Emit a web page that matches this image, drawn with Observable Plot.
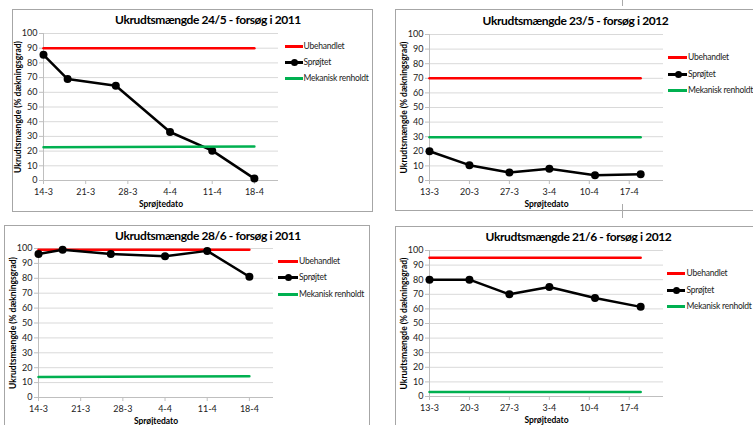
<!DOCTYPE html>
<html><head><meta charset="utf-8">
<script src="https://cdn.jsdelivr.net/npm/d3@7"></script>
<script src="https://cdn.jsdelivr.net/npm/@observablehq/plot@0.6"></script>
<style>
html,body{margin:0;padding:0;background:#fff;}
#root{position:relative;width:753px;height:425px;overflow:hidden;font-family:Lato,"Open Sans",sans-serif;}
.frame{position:absolute;border:1px solid #a6a6a6;box-sizing:border-box;}
.chart{position:absolute;}
.sw{position:absolute;}
.lt{position:absolute;font-size:8.5px;letter-spacing:-0.25px;color:#222;white-space:nowrap;height:12px;line-height:12px;}
.mark{position:absolute;width:1px;background:#aaa;}
</style></head><body><div id="root"></div>
<script>
// ---- data ----
const yTicks = [0, 10, 20, 30, 40, 50, 60, 70, 80, 90, 100];
const xTicks2011 = ["2011-03-14", "2011-03-21", "2011-03-28", "2011-04-04", "2011-04-11", "2011-04-18"];
const xTicks2012 = ["2012-03-13", "2012-03-20", "2012-03-27", "2012-04-03", "2012-04-10", "2012-04-17"];
const dates2011 = ["2011-03-14", "2011-03-18", "2011-03-26", "2011-04-04", "2011-04-11", "2011-04-18"];
const dates2012 = ["2012-03-13", "2012-03-20", "2012-03-27", "2012-04-03", "2012-04-11", "2012-04-19"];
const spray_24_5 = [85.5, 69, 64.5, 33, 20.3, 1.3];
const spray_23_5 = [20, 10.5, 5.5, 8, 3.6, 4.2];
const spray_28_6 = [96.3, 99.1, 96.3, 94.8, 98.4, 81];
const spray_21_6 = [80, 80, 70, 75, 67.5, 61.4];
const untreated_24_5 = [90, 90];
const untreated_23_5 = [70, 70];
const untreated_28_6 = [99.2, 99.2];
const untreated_21_6 = [95, 95];
const mech_24_5 = [22.6, 23.2];
const mech_23_5 = [29.6, 29.6];
const mech_28_6 = [13.7, 14.2];
const mech_21_6 = [3.1, 3.1];
const seriesNames = ["Ubehandlet", "Sprøjtet", "Mekanisk renholdt"];
const titles = ["Ukrudtsmængde 24/5 - forsøg i 2011", "Ukrudtsmængde 23/5 - forsøg i 2012",
                "Ukrudtsmængde 28/6 - forsøg i 2011", "Ukrudtsmængde 21/6 - forsøg i 2012"];
const yLabel = "Ukrudtsmængde (% dækningsgrad)";
const xLabel = "Sprøjtedato";
const colors = {red: "#ff0000", black: "#000000", green: "#00b050"};

const parse = d3.utcParse("%Y-%m-%d");
const fmt = d3.utcFormat("%-d-%-m");
const root = document.getElementById("root");

function panel(cfg) {
  const {frame, plot, domain, ticks, dates, spray, untreated, mech, title, titleX, titleBase, legend} = cfg;
  const ml = plot.left - frame.left, mt = plot.top - frame.top;
  const mr = frame.width - ml - plot.width, mb = frame.height - mt - plot.height;
  const D = dates.map(parse);
  const sprayRows = D.map((d, i) => ({date: d, v: spray[i]}));
  const redRows = [{date: D[0], v: untreated[0]}, {date: D[D.length - 1], v: untreated[1]}];
  const greenRows = [{date: D[0], v: mech[0]}, {date: D[D.length - 1], v: mech[1]}];
  const dom = domain.map(parse);

  const fr = document.createElement("div");
  fr.className = "frame";
  Object.assign(fr.style, {left: frame.left + "px", top: frame.top + "px", width: frame.bw + "px", height: frame.bh + "px"});
  root.appendChild(fr);

  const svg = Plot.plot({
    width: frame.width, height: frame.height,
    marginLeft: ml, marginTop: mt, marginRight: mr, marginBottom: mb,
    style: {fontFamily: "Lato, 'Open Sans', sans-serif", fontSize: "9px", background: "transparent", overflow: "visible"},
    x: {type: "utc", domain: dom},
    y: {domain: [0, 100]},
    marks: [
      Plot.gridY({ticks: yTicks, stroke: "#d9d9d9", strokeOpacity: 1}),
      Plot.ruleY([0], {stroke: "#bfbfbf"}),
      Plot.ruleX([dom[0]], {stroke: "#bfbfbf"}),
      Plot.axisY({ticks: yTicks, tickSize: 4, tickPadding: 2, stroke: "#bfbfbf", fill: "#222", label: null}),
      Plot.axisX({ticks: ticks.map(parse), tickFormat: fmt, tickSize: 4, tickPadding: 4, stroke: "#bfbfbf", fill: "#222", label: null}),
      Plot.line(redRows, {x: "date", y: "v", stroke: colors.red, strokeWidth: 2.5}),
      Plot.line(sprayRows, {x: "date", y: "v", stroke: colors.black, strokeWidth: 2.5}),
      Plot.dot(sprayRows, {x: "date", y: "v", r: 4, fill: colors.black, stroke: "none"}),
      Plot.line(greenRows, {x: "date", y: "v", stroke: colors.green, strokeWidth: 2.5}),
      Plot.text([title], {frameAnchor: "top-left", dx: titleX - plot.left, dy: titleBase - plot.top, lineAnchor: "bottom", textAnchor: "middle", fontSize: 12, fontWeight: "bold", fill: "#000"}),
      Plot.text([yLabel], {frameAnchor: "left", rotate: -90, dx: -25, lineAnchor: "middle", textAnchor: "middle", fontSize: 8.5, fontWeight: "bold", fill: "#000"}),
      Plot.text([xLabel], {frameAnchor: "bottom", dy: 24, lineAnchor: "middle", textAnchor: "middle", fontSize: 8.5, fontWeight: "bold", fill: "#000"})
    ]
  });
  svg.querySelectorAll("text").forEach(t => {
    if (t.textContent === title) t.setAttribute("letter-spacing", "-0.4");
  });
  svg.classList.add("chart");
  svg.style.position = "absolute";
  svg.style.left = frame.left + "px";
  svg.style.top = frame.top + "px";
  root.appendChild(svg);

  // legend
  const legColors = [colors.red, colors.black, colors.green];
  seriesNames.forEach((name, i) => {
    const y = Math.round(legend.ys[i]);
    const x1 = Math.round(legend.x1), x2 = Math.round(legend.x2);
    const sw = document.createElement("div");
    sw.className = "sw";
    Object.assign(sw.style, {left: x1 + "px", top: (y - 1) + "px", width: (x2 - x1) + "px", height: "2.5px", background: legColors[i]});
    root.appendChild(sw);
    if (i === 1) {
      const dot = document.createElement("div");
      dot.className = "sw";
      const cx = Math.round((x1 + x2) / 2);
      Object.assign(dot.style, {left: (cx - 3.5) + "px", top: (y - 3.25) + "px", width: "7px", height: "7px", borderRadius: "50%", background: "#000"});
      root.appendChild(dot);
    }
    const t = document.createElement("div");
    t.className = "lt";
    t.textContent = name;
    Object.assign(t.style, {left: legend.tx + "px", top: (y - 6) + "px"});
    root.appendChild(t);
  });
}

panel({
  frame: {left: 12, top: 9, width: 361, height: 203, bw: 361, bh: 203},
  plot: {left: 43, top: 33, width: 235, height: 147},
  domain: ["2011-03-14", "2011-04-22"], ticks: xTicks2011, dates: dates2011,
  spray: spray_24_5, untreated: untreated_24_5, mech: mech_24_5,
  title: titles[0], titleX: 207.5, titleBase: 23.5,
  legend: {x1: 285, x2: 302.5, tx: 303.5, ys: [45.7, 61.7, 78.3]}
});
panel({
  frame: {left: 395, top: 9, width: 370, height: 202, bw: 380, bh: 202},
  plot: {left: 429, top: 34, width: 234, height: 146},
  domain: ["2012-03-13", "2012-04-23"], ticks: xTicks2012, dates: dates2012,
  spray: spray_23_5, untreated: untreated_23_5, mech: mech_23_5,
  title: titles[1], titleX: 575, titleBase: 24,
  legend: {x1: 667.5, x2: 686.5, tx: 688, ys: [57, 73.5, 90]}
});
panel({
  frame: {left: 4, top: 225, width: 366, height: 210, bw: 366, bh: 220},
  plot: {left: 38, top: 248, width: 235, height: 149},
  domain: ["2011-03-14", "2011-04-22"], ticks: xTicks2011, dates: dates2011,
  spray: spray_28_6, untreated: untreated_28_6, mech: mech_28_6,
  title: titles[2], titleX: 207.5, titleBase: 239,
  legend: {x1: 278.3, x2: 297.7, tx: 299, ys: [260.7, 277.3, 294]}
});
panel({
  frame: {left: 395, top: 226, width: 370, height: 210, bw: 380, bh: 220},
  plot: {left: 429, top: 250, width: 234, height: 146},
  domain: ["2012-03-13", "2012-04-23"], ticks: xTicks2012, dates: dates2012,
  spray: spray_21_6, untreated: untreated_21_6, mech: mech_21_6,
  title: titles[3], titleX: 578, titleBase: 240.5,
  legend: {x1: 667.3, x2: 685, tx: 686.5, ys: [273.3, 289.7, 305.7]}
});

// small page marks between the charts
[[622, 0, 6], [622, 204, 14]].forEach(([x, y, h]) => {
  const m = document.createElement("div");
  m.className = "mark";
  Object.assign(m.style, {left: x + "px", top: y + "px", height: h + "px"});
  root.appendChild(m);
});
</script></body></html>
